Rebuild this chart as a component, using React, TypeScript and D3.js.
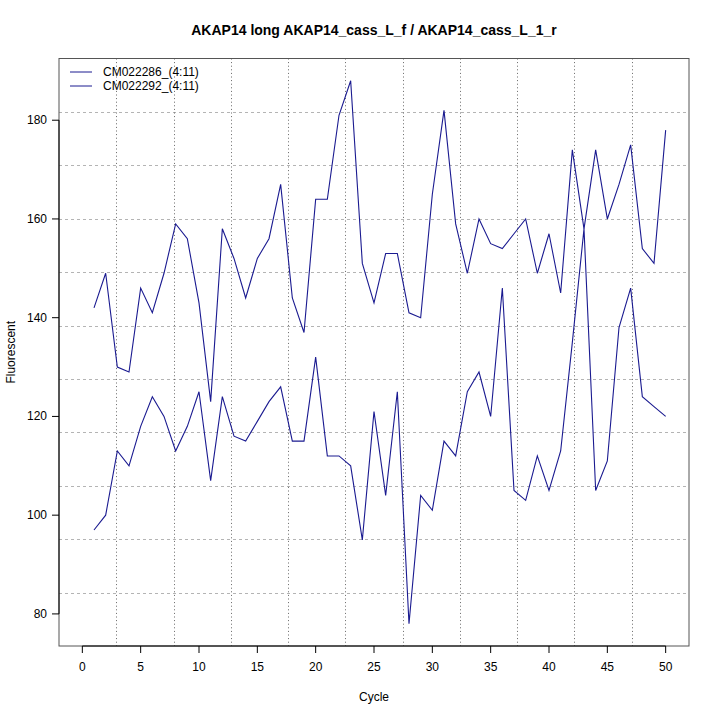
import * as d3 from "d3";

const cycles = d3.range(1, 51);

const seriesA = [
  142, 149, 130, 129, 146, 141, 149, 159, 156, 143,
  123, 158, 152, 144, 152, 156, 167, 144, 137, 164,
  164, 181, 188, 151, 143, 153, 153, 141, 140, 165,
  182, 159, 149, 160, 155, 154, 157, 160, 149, 157,
  145, 174, 158, 174, 160, 167, 175, 154, 151, 178,
];

const seriesB = [
  97, 100, 113, 110, 118, 124, 120, 113, 118, 125,
  107, 124, 116, 115, 119, 123, 126, 115, 115, 132,
  112, 112, 110, 95, 121, 104, 125, 78, 104, 101,
  115, 112, 125, 129, 120, 146, 105, 103, 112, 105,
  113, 135, 158, 105, 111, 138, 146, 124, 122, 120,
];

const legendNames = ["CM022286_(4:11)", "CM022292_(4:11)"];
const xTicks = [0, 5, 10, 15, 20, 25, 30, 35, 40, 45, 50];
const yTicks = [80, 100, 120, 140, 160, 180];

const W = 720;
const H = 720;
const margin = { top: 58.5, right: 31, bottom: 74, left: 59 };
const font = "'Liberation Sans', Arial, Helvetica, sans-serif";
const lineColor = "#1a1a90";

export default function App() {
  const x = d3.scaleLinear().domain([-2, 52]).range([margin.left, W - margin.right]);
  const y = d3.scaleLinear().domain([73.5, 192.5]).range([H - margin.bottom, margin.top]);

  // R grid(): equal cells across the plot region
  const [x0, x1] = x.domain();
  const [y0, y1] = y.domain();
  const gridX = d3.range(1, 11).map((k) => x0 + (k * (x1 - x0)) / 11);
  const gridY = d3.range(1, 11).map((k) => y0 + (k * (y1 - y0)) / 11);

  const line = d3
    .line<number>()
    .x((_, i) => x(cycles[i]))
    .y((d) => y(d));

  const left = margin.left;
  const right = W - margin.right;
  const top = margin.top;
  const bottom = H - margin.bottom;

  return (
    <div style={{ position: "fixed", left: 0, top: 0, background: "#fff" }}>
      <svg width={W} height={H} style={{ display: "block" }} fontFamily={font}>
        <rect width={W} height={H} fill="#fff" />
        <text x={(left + right) / 2} y={35} textAnchor="middle" fontSize="14" fontWeight="bold">
          AKAP14 long AKAP14_cass_L_f / AKAP14_cass_L_1_r
        </text>

        {gridY.map((g) => (
          <line key={`gy${g}`} x1={left} x2={right} y1={Math.round(y(g)) + 0.5} y2={Math.round(y(g)) + 0.5} stroke="#b4b4b4" strokeDasharray="3,3" />
        ))}
        {gridX.map((g) => (
          <line key={`gx${g}`} x1={Math.round(x(g)) + 0.5} x2={Math.round(x(g)) + 0.5} y1={top} y2={bottom} stroke="#666" strokeDasharray="1,2.6" />
        ))}

        <path d={line(seriesA) ?? ""} fill="none" stroke={lineColor} strokeWidth={1.1} />
        <path d={line(seriesB) ?? ""} fill="none" stroke={lineColor} strokeWidth={1.1} />

        <rect x={left} y={top} width={right - left} height={bottom - top} fill="none" stroke="#555" />

        {/* y axis */}
        <line x1={left} x2={left} y1={y(80)} y2={y(180)} stroke="#000" />
        {yTicks.map((t) => (
          <g key={`y${t}`}>
            <line x1={left - 7} x2={left} y1={y(t)} y2={y(t)} stroke="#000" />
            <text x={left - 12} y={y(t) + 4} textAnchor="end" fontSize="12">{t}</text>
          </g>
        ))}

        {/* x axis */}
        <line x1={x(0)} x2={x(50)} y1={bottom} y2={bottom} stroke="#000" />
        {xTicks.map((t) => (
          <g key={`x${t}`}>
            <line x1={x(t)} x2={x(t)} y1={bottom} y2={bottom + 7} stroke="#000" />
            <text x={x(t)} y={bottom + 25} textAnchor="middle" fontSize="12">{t}</text>
          </g>
        ))}

        <text x={(left + right) / 2} y={701} textAnchor="middle" fontSize="12">Cycle</text>
        <text transform={`translate(15,${(top + bottom) / 2}) rotate(-90)`} textAnchor="middle" fontSize="12">
          Fluorescent
        </text>

        {legendNames.map((n, i) => (
          <g key={n}>
            <line x1={70} x2={92} y1={72 + i * 14} y2={72 + i * 14} stroke={lineColor} />
            <text x={103} y={76 + i * 14} fontSize="12">{n}</text>
          </g>
        ))}
      </svg>
    </div>
  );
}
